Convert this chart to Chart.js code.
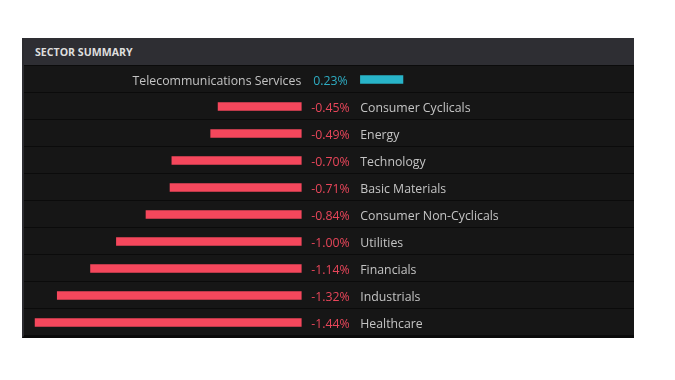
<!DOCTYPE html>
<html>
<head>
<meta charset="utf-8">
<script src="https://cdn.jsdelivr.net/npm/chart.js@4/dist/chart.umd.min.js"></script>
<style>
  body { margin: 0; background: #fff; }
  #panel {
    position: absolute; left: 22px; top: 38px; width: 610px; height: 298px;
    background: #161616; border-left: 2px solid #2c2c30; border-bottom: 2px solid #0a0a0a;
  }
  #header {
    height: 28px; background: #2e2e33; color: #dedede;
    font: bold 10.6px "Open Sans", sans-serif; line-height: 28px; padding-left: 11px;
  }
  #wrap { position: absolute; left: 0; top: 0; width: 675px; height: 380px; }
</style>
</head>
<body>
<div id="panel"><div id="header">SECTOR SUMMARY</div></div>
<div id="wrap"><canvas id="myChart"></canvas></div>
<script>
const sectors = ['Telecommunications Services', 'Consumer Cyclicals', 'Energy', 'Technology',
  'Basic Materials', 'Consumer Non-Cyclicals', 'Utilities', 'Financials', 'Industrials', 'Healthcare'];
const changes = [0.23, -0.45, -0.49, -0.70, -0.71, -0.84, -1.00, -1.14, -1.32, -1.44];

let colorRed = 'rgb(245, 71, 92)';
let colorTeal = 'rgb(40, 180, 201)';
let textRed = 'rgb(232, 70, 90)';
let textTeal = 'rgb(46, 172, 194)';
let textGray = 'rgb(196, 196, 196)';

const upValues = changes.map(v => (v >= 0 ? v : null));
const downValues = changes.map(v => (v < 0 ? v : null));

/* row lines + labels */
const rowPlugin = {
  id: 'rows',
  beforeDatasetsDraw(chart) {
    const { ctx, chartArea } = chart;
    const step = (chartArea.bottom - chartArea.top) / sectors.length;
    ctx.save();
    ctx.fillStyle = '#0b0b0b';
    for (let i = 0; i <= sectors.length; i++) {
      const py = Math.round(chartArea.top + i * step);
      ctx.fillRect(chartArea.left, py - 1, chartArea.right - chartArea.left, 1);
    }
    ctx.restore();
  },
  afterDatasetsDraw(chart) {
    const { ctx } = chart;
    const x = chart.scales.x;
    const y = chart.scales.y;
    const zero = x.getPixelForValue(0);
    ctx.save();
    ctx.font = '12.3px "Open Sans", sans-serif';
    ctx.textBaseline = 'middle';
    sectors.forEach((name, i) => {
      const py = y.getPixelForValue(i) + 1.5;
      const v = changes[i];
      const txt = v.toFixed(2) + '%';
      if (v >= 0) {
        ctx.textAlign = 'right';
        ctx.fillStyle = textGray;
        ctx.fillText(name, zero, py);
        ctx.textAlign = 'left';
        ctx.fillStyle = textTeal;
        ctx.fillText(txt, zero + 12, py);
      } else {
        ctx.textAlign = 'left';
        ctx.fillStyle = textRed;
        ctx.fillText(txt, zero + 10, py);
        ctx.fillStyle = textGray;
        ctx.fillText(name, zero + 59, py);
      }
    });
    ctx.restore();
  }
};

const chartConfig = {
  type: 'bar',
  data: {
    labels: sectors,
    datasets: [
      { data: downValues, backgroundColor: colorRed, xAxisID: 'x', barThickness: 8, grouped: false },
      { data: upValues, backgroundColor: colorTeal, xAxisID: 'x2', barThickness: 8, grouped: false },
    ],
  },
  options: {
    indexAxis: 'y',
    responsive: false,
    animation: false,
    layout: { padding: { left: 24, right: 41, top: 66, bottom: 44 } },
    plugins: { legend: { display: false }, tooltip: { enabled: false } },
    scales: {
      x: { display: false, min: -1.5, max: 1.8 },
      x2: { display: false, min: -1.82, max: 1.48 },
      y: { display: false },
    },
  },
  plugins: [rowPlugin],
};

const cv = document.getElementById('myChart');
cv.width = 675; cv.height = 380;
const myChart = new Chart(cv.getContext('2d'), chartConfig);
</script>
</body>
</html>
